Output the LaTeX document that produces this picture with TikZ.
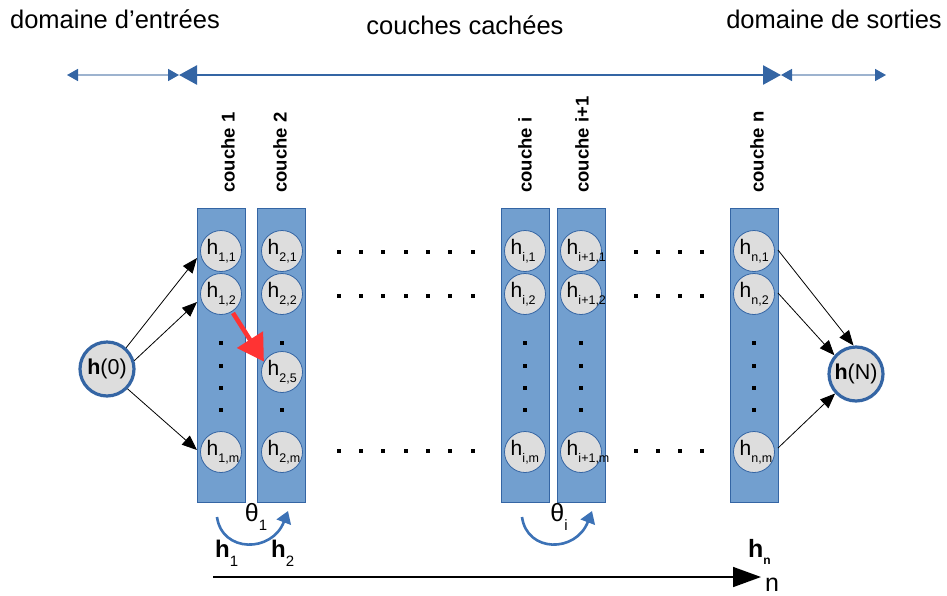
\documentclass[tikz,border=0pt]{standalone}
\usepackage{fontspec}
\setmainfont{Liberation Sans}
\usetikzlibrary{arrows.meta}
\definecolor{colfill}{HTML}{729FCF}
\definecolor{colborder}{HTML}{3465A4}
\definecolor{neurfill}{HTML}{DDDDDD}
\definecolor{lightline}{HTML}{9DB3CF}
\definecolor{arcblue}{HTML}{3C72B6}
\definecolor{redarrow}{HTML}{FF3333}
\newcommand\hlab[1]{\makebox[0pt][l]{\hspace{-14.5pt}h\hspace{0.3pt}\raisebox{-6.5pt}{\fontsize{12.5}{12.5}\selectfont #1}}}
\tikzset{
  layerbox/.style={draw=colborder, line width=0.8pt, fill=colfill, minimum width=48, minimum height=294, inner sep=0pt},
  neuron/.style={circle, draw=colborder, line width=0.8pt, fill=neurfill, minimum size=41, inner sep=0pt, font=\fontsize{21}{21}\selectfont},
  bignode/.style={circle, draw=colborder, line width=3.2pt, fill=neurfill, minimum size=54, inner sep=0pt, font=\fontsize{21.5}{21.5}\selectfont},
  dotsq/.style={fill=black, minimum size=4.2, inner sep=0pt, rectangle},
  layerlabel/.style={rotate=90, anchor=west, inner sep=0pt, font=\fontsize{18.5}{18.5}\selectfont\bfseries},
  toptext/.style={font=\fontsize{25.5}{25.5}\selectfont, inner sep=0pt},
  conn/.style={-{Triangle[length=15pt,width=12pt]}, line width=0.8pt, black},
  thetaarc/.style={-{Triangle[length=12pt,width=15pt]}, line width=2.6pt, arcblue},
}
\begin{document}
\begin{tikzpicture}[x=1pt,y=-1pt]
\path[use as bounding box] (0,0) rectangle (947,595);

% top texts
\node[toptext] (tin) at (115,19) {domaine d’entrées};
\node[toptext] (thid) at (465,25) {couches cachées};
\node[toptext] (tout) at (834,19) {domaine de sorties};

% top arrows
\coordinate (a0) at (67,75);
\coordinate (a1) at (179,75);
\coordinate (a2) at (781,75);
\coordinate (a3) at (886,75);
\draw[lightline, line width=1.6pt, {Triangle[length=11pt,width=12pt,color=colborder]}-{Triangle[length=11pt,width=12pt,color=colborder]}] (a0) -- (a1);
\draw[colborder, line width=2.6pt, {Triangle[length=18pt,width=19pt]}-{Triangle[length=18pt,width=19pt]}] (a1) -- (a2);
\draw[lightline, line width=1.6pt, {Triangle[length=11pt,width=12pt,color=colborder]}-{Triangle[length=11pt,width=12pt,color=colborder]}] (a2) -- (a3);

% layers
\node[layerbox] (L1) at (221,355) {};
\node[layerbox] (L2) at (281,355) {};
\node[layerbox] (Li) at (525,355) {};
\node[layerbox] (Li1) at (581,355) {};
\node[layerbox] (Ln) at (754,355) {};

% layer labels
\node[layerlabel] (lab1) at (228,193) {couche 1};
\node[layerlabel] (lab2) at (280,193) {couche 2};
\node[layerlabel] (labi) at (525,193) {couche i};
\node[layerlabel] (labi1) at (582,193) {couche i+1};
\node[layerlabel] (labn) at (757,193) {couche n};

% neurons
\node[neuron] (n11) at (221,251) {\hlab{1,1}};
\node[neuron] (n12) at (221,294) {\hlab{1,2}};
\node[neuron] (n1m) at (221,452) {\hlab{1,m}};
\node[neuron] (n21) at (282,251) {\hlab{2,1}};
\node[neuron] (n22) at (282,294) {\hlab{2,2}};
\node[neuron] (n25) at (282,372) {\hlab{2,5}};
\node[neuron] (n2m) at (282,452) {\hlab{2,m}};
\node[neuron] (ni1) at (525,251) {\hlab{i,1}};
\node[neuron] (ni2) at (525,294) {\hlab{i,2}};
\node[neuron] (nim) at (525,452) {\hlab{i,m}};
\node[neuron] (nj1) at (581,251) {\hlab{i+1,1}};
\node[neuron] (nj2) at (581,294) {\hlab{i+1,2}};
\node[neuron] (njm) at (581,452) {\hlab{i+1,m}};
\node[neuron] (nn1) at (754,251) {\hlab{n,1}};
\node[neuron] (nn2) at (754,294) {\hlab{n,2}};
\node[neuron] (nnm) at (754,452) {\hlab{n,m}};

% vertical dots
\foreach \y [count=\k] in {343,366,388,410}{
  \node[dotsq] (v1\k) at (221,\y) {};
  \node[dotsq] (vi\k) at (525,\y) {};
  \node[dotsq] (vj\k) at (581,\y) {};
  \node[dotsq] (vn\k) at (754,\y) {};
}
\node[dotsq] (v2a) at (282,343) {};
\node[dotsq] (v2b) at (282,410) {};

% horizontal dots
\foreach \x [count=\k] in {339,361,383,406,428,450,473}{
  \node[dotsq] (ha\k) at (\x,252) {};
  \node[dotsq] (hb\k) at (\x,296) {};
  \node[dotsq] (hc\k) at (\x,451) {};
}
\foreach \x [count=\k] in {636,658,680,702}{
  \node[dotsq] (hd\k) at (\x,252) {};
  \node[dotsq] (he\k) at (\x,296) {};
  \node[dotsq] (hf\k) at (\x,451) {};
}

% input / output nodes
\node[bignode] (h0) at (107,369) {\textbf{h}(0)};
\node[bignode] (hN) at (856,374) {\textbf{h}(N)};

% connectors input
\coordinate (e1) at (197,258);
\coordinate (e2) at (197,302);
\coordinate (e3) at (197,450);
\draw[conn] (h0.48) -- (e1);
\draw[conn] (h0.17) -- (e2);
\draw[conn] (h0.-44) -- (e3);

% connectors output
\coordinate (s1) at (778,250);
\coordinate (s2) at (778,293);
\coordinate (s3) at (778,448);
\draw[conn] (s1) -- (hN.95);
\draw[conn] (s2) -- (hN.139);
\draw[conn] (s3) -- (hN.-137);

% red arrow
\coordinate (r0) at (233,313);
\draw[redarrow, line width=4.5pt, -{Triangle[length=26pt,width=30pt]}] (r0) -- (n25.150);

% theta arcs
\coordinate (t1s) at (217,517);
\coordinate (t1e) at (288,511);
\draw[thetaarc] (t1s) .. controls (222,553) and (272,553) .. (t1e);
\node[inner sep=0pt, font=\fontsize{25}{25}\selectfont] (th1) at (256,517) {θ\raisebox{-9pt}{\fontsize{15}{15}\selectfont 1}};
\coordinate (tis) at (522,517);
\coordinate (tie) at (592,511);
\draw[thetaarc] (tis) .. controls (527,553) and (576,553) .. (tie);
\node[inner sep=0pt, font=\fontsize{25}{25}\selectfont] (thi) at (559,517) {θ\raisebox{-9pt}{\fontsize{15}{15}\selectfont i}};

% h labels bottom
\node[inner sep=0pt, anchor=base west, font=\fontsize{24}{24}\selectfont] (hb1) at (215,557) {\textbf{h}\raisebox{-9pt}{\fontsize{15}{15}\selectfont 1}};
\node[inner sep=0pt, anchor=base west, font=\fontsize{24}{24}\selectfont] (hb2) at (271,557) {\textbf{h}\raisebox{-9pt}{\fontsize{15}{15}\selectfont 2}};
\node[inner sep=0pt, anchor=base west, font=\fontsize{25}{25}\selectfont] (hbn) at (748,557) {\textbf{h}\raisebox{-7pt}{\fontsize{12}{12}\selectfont\bfseries n}};

% bottom arrow
\coordinate (b0) at (213,577);
\coordinate (b1) at (761,577);
\draw[line width=1.6pt, -{Triangle[length=28pt,width=20pt]}] (b0) -- (b1);
\node[inner sep=0pt, anchor=base west, font=\fontsize{25}{25}\selectfont] (nlab) at (765,591) {n};
\end{tikzpicture}
\end{document}
